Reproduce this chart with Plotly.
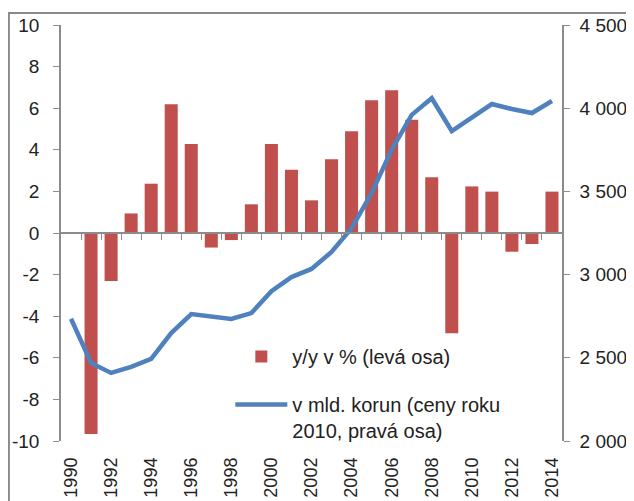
import plotly.graph_objects as go

years = list(range(1990, 2015))
growth_pct = [None, -9.66, -2.31, 0.94, 2.37, 6.19, 4.28, -0.70, -0.34, 1.38,
              4.28, 3.04, 1.57, 3.54, 4.89, 6.38, 6.86, 5.45, 2.68, -4.82,
              2.24, 1.99, -0.90, -0.53, 1.99]
level_bn = [2735, 2469, 2409, 2445, 2493, 2649, 2763, 2745, 2733, 2769,
            2900, 2985, 3034, 3136, 3279, 3490, 3750, 3960, 4060, 3863,
            3947, 4025, 3995, 3971, 4043]
x_tickvals = list(range(1990, 2015, 2))
x_ticktext = [str(y) for y in x_tickvals]
left_tickvals = list(range(-10, 11, 2))
left_ticktext = [str(v) for v in left_tickvals]
right_tickvals = [2000, 2500, 3000, 3500, 4000, 4500]
right_ticktext = ["2 000", "2 500", "3 000", "3 500", "4 000", "4 500"]
boundary_ticks = [y + 0.5 for y in range(1990, 2014)]

name_bar = "y/y v % (levá osa)"
name_line = "v mld. korun (ceny roku<br>2010, pravá osa)"

FONT = "Arial, 'Liberation Sans', sans-serif"
AX = "#8c8c8c"

fig = go.Figure()
fig.add_trace(go.Bar(x=years, y=growth_pct, name=name_bar, legendgroup="a",
                     marker=dict(color="#C0504D", line=dict(width=0)),
                     xaxis="x", yaxis="y"))
fig.add_trace(go.Scatter(x=years, y=level_bn, name=name_line, mode="lines",
                         legendgroup="b",
                         line=dict(color="#4F81BD", width=4.5),
                         xaxis="x", yaxis="y2"))

fig.update_layout(
    width=634, height=501,
    margin=dict(l=53, r=80, t=17, b=68, autoexpand=False),
    paper_bgcolor="white", plot_bgcolor="white",
    font=dict(family=FONT, size=19, color="#222"),
    bargap=0.35,
    showlegend=True,
    legend=dict(x=0.338, y=0.25, xanchor="left", yanchor="top",
                bgcolor="rgba(0,0,0,0)", font=dict(size=20, color="#222"),
                tracegroupgap=19, itemwidth=52, valign="top"),
    xaxis=dict(range=[1989.5, 2014.5], tickvals=x_tickvals, ticktext=x_ticktext,
               tickangle=-90, showline=False, showgrid=False, zeroline=False,
               ticks="", tickfont=dict(size=18, color="#222"), ticklabelstandoff=12,
               automargin=False),
    xaxis2=dict(range=[1989.5, 2014.5], overlaying="x", anchor="free", position=0.5,
                side="bottom", showline=True, linecolor=AX, linewidth=1.5,
                tickvals=boundary_ticks, showticklabels=False, ticks="outside",
                ticklen=6, tickcolor=AX, showgrid=False, zeroline=False,
                automargin=False),
    yaxis=dict(range=[-10, 10], tickvals=left_tickvals, ticktext=left_ticktext,
               showgrid=False, zeroline=False,
               showline=True, linecolor=AX, linewidth=1.5, ticks="outside",
               ticklen=6, tickcolor=AX, ticklabelstandoff=10,
               tickfont=dict(size=19, color="#222"), automargin=False),
    yaxis2=dict(range=[2000, 4500], tickvals=right_tickvals, ticktext=right_ticktext,
                overlaying="y", side="right", anchor="x", showgrid=False, zeroline=False,
                showline=True, linecolor=AX, linewidth=1.5, ticks="outside",
                ticklen=6, tickcolor=AX, ticklabelstandoff=6,
                tickfont=dict(size=19, color="#222"), automargin=False),
)

# invisible helper trace so the zero-level category axis is drawn
fig.add_trace(go.Scatter(x=[1989.5], y=[0], xaxis="x2", yaxis="y", mode="markers",
                         marker=dict(opacity=0), showlegend=False, hoverinfo="skip"))

# outer chart frame
fig.add_shape(type="rect", xref="paper", yref="paper",
              x0=-0.104, x1=1.3, y0=-0.3, y1=1.029,
              line=dict(color="#8a8a8a", width=2), layer="below")

fig.write_html("out.html")
